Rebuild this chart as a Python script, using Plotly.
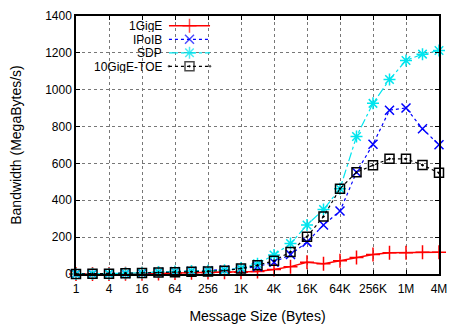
import plotly.graph_objects as go

sizes = [2 ** i for i in range(23)]
tick_vals = [2 ** i for i in range(0, 23, 2)]
tick_text = ["1", "4", "16", "64", "256", "1K", "4K", "16K", "64K", "256K", "1M", "4M"]

gige = [0.1, 0.2, 0.4, 0.9, 1.7, 3, 5, 7, 8, 9, 10, 14, 24, 40, 64, 56, 72, 89, 106, 115, 115, 118, 118]
ipoib = [0.3, 0.6, 1.2, 2.4, 4.8, 9, 13, 15, 18, 22, 28, 40, 64, 106, 173, 266, 342, 552, 704, 889, 901, 788, 701]
sdp = [0.5, 1, 2, 4, 7, 11, 14, 16, 18, 20, 32, 56, 103, 165, 266, 350, 463, 746, 926, 1055, 1159, 1193, 1213]
toe = [0.5, 1, 2, 4, 6, 8, 10, 12, 14, 18, 30, 47, 72, 120, 202, 312, 463, 552, 590, 625, 625, 591, 549]

series = [
    ("1GigE", gige, "#ff0000", "solid", "cross-thin", 10, 1.5),
    ("IPoIB", ipoib, "#0000ff", "dot", "x-thin", 9, 1.2),
    ("SDP", sdp, "#00e5ee", "dashdot", "asterisk", 10, 1.2),
    ("10GigE-TOE", toe, "#000000", "dot", "square-open-dot", 9, 1.2),
]

W, H = 456, 331
L, R, T, B = 76, 447, 14, 291
pw, ph = R - L, B - T

def px(x):
    return (x - L) / pw

def py(y):
    return (B - y) / ph

fig = go.Figure()
for name, vals, col, dash, sym, msz, lw in series:
    fig.add_trace(go.Scatter(
        x=sizes, y=vals, mode="lines+markers", name=name, showlegend=False,
        line=dict(color=col, width=lw, dash=dash),
        marker=dict(symbol=sym, size=msz, color=col,
                    line=dict(color=col, width=1.5)),
        cliponaxis=False,
    ))

# manual gnuplot-style key
row_y = [24.5, 39, 53.5, 68]
annotations = []
for (name, vals, col, dash, sym, msz, lw), ry in zip(series, row_y):
    fig.add_trace(go.Scatter(
        x=[px(171), px(192), px(213)], y=[py(ry)] * 3,
        xaxis="x2", yaxis="y2", mode="lines+markers", showlegend=False,
        line=dict(color=col, width=lw, dash=dash),
        marker=dict(symbol=sym, size=[0, msz, 0], color=col,
                    line=dict(color=col, width=1.5)),
        cliponaxis=False, hoverinfo="skip",
    ))
    annotations.append(dict(
        x=px(165), y=py(ry), xref="paper", yref="paper", text=name,
        showarrow=False, xanchor="right", yanchor="middle",
        height=13, valign="middle", borderpad=0,
        font=dict(family="Liberation Sans", size=12, color="#000"),
    ))

fig.update_layout(
    width=W, height=H,
    margin=dict(l=L, r=W - R, t=T, b=H - B),
    paper_bgcolor="white", plot_bgcolor="white",
    font=dict(family="Liberation Sans", size=12, color="#000"),
    annotations=annotations,
    shapes=[dict(type="rect", xref="paper", yref="paper",
                 x0=0, x1=px(217), y0=py(78), y1=1,
                 fillcolor="white", line=dict(width=0), layer="between")],
    xaxis=dict(
        type="log", range=[0, 22 * 0.30103], tickvals=tick_vals, ticktext=tick_text,
        showline=True, linecolor="#000", linewidth=1.5, mirror="allticks",
        ticks="inside", ticklen=4, tickcolor="#000", ticklabelstandoff=3,
        showgrid=True, gridcolor="#777", griddash="dot", gridwidth=1,
        zeroline=False,
        title=dict(text="Message Size (Bytes)", standoff=16),
    ),
    yaxis=dict(
        range=[0, 1400], dtick=200,
        showline=True, linecolor="#000", linewidth=1.5, mirror="allticks",
        ticks="inside", ticklen=4, tickcolor="#000",
        showgrid=True, gridcolor="#777", griddash="dot", gridwidth=1,
        zeroline=False,
        title=dict(text="Bandwidth (MegaBytes/s)", standoff=20),
    ),
    xaxis2=dict(overlaying="x", range=[0, 1], visible=False),
    yaxis2=dict(overlaying="y", range=[0, 1], visible=False),
)

fig.write_html(
    "out.html",
    config={"displayModeBar": False},
    post_script="document.body.style.margin='0';document.body.style.overflow='hidden';",
)
